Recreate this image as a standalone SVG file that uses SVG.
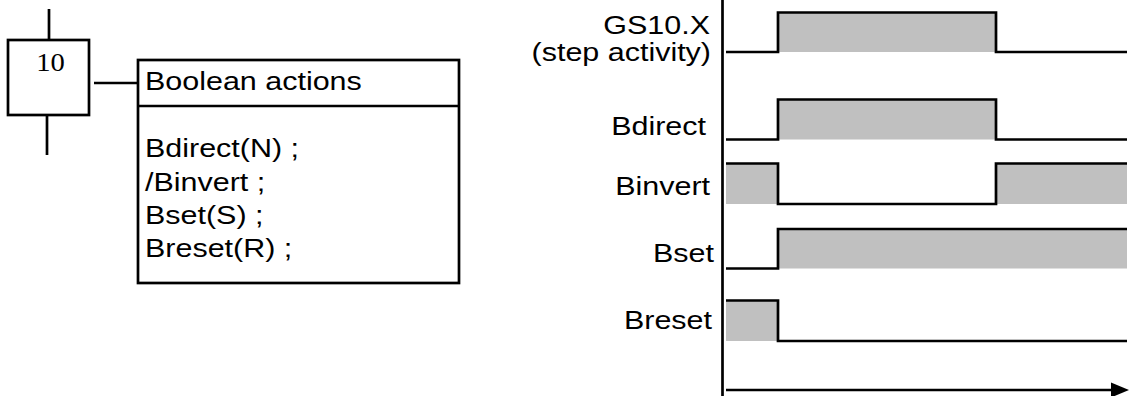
<svg xmlns="http://www.w3.org/2000/svg" width="1129" height="396" viewBox="0 0 1129 396">
<style>
.ln{fill:none;stroke:#000;stroke-width:2.7;stroke-linecap:butt;stroke-linejoin:miter}
.gr{fill:#c0c0c0;stroke:none}
.ah{fill:#000;stroke:none}
.t{font-family:"Liberation Sans",Arial,sans-serif;font-size:26.5px;fill:#000}
.r{text-anchor:end}
.s{font-family:"Liberation Serif","Times New Roman",serif;font-size:26px;fill:#000;text-anchor:middle}
</style>
<g id="step10">
<rect class="ln" x="8" y="40" width="81" height="75"/>
<text class="s" transform="translate(50.5,71) scale(1.1,1)">10</text>
</g>
<g id="actions">
<rect class="ln" x="138" y="60" width="321" height="223"/>
<line class="ln" x1="138" y1="106" x2="459" y2="106"/>
<text class="t" transform="translate(145,90) scale(1.15,1)">Boolean actions</text>
<text class="t" transform="translate(145,157) scale(1.15,1)">Bdirect(N) ;</text>
<text class="t" transform="translate(145,190.5) scale(1.15,1)">/Binvert ;</text>
<text class="t" transform="translate(145,223.5) scale(1.15,1)">Bset(S) ;</text>
<text class="t" transform="translate(145,257) scale(1.15,1)">Breset(R) ;</text>
</g>
<g id="connectors">
<line class="ln" x1="49" y1="9" x2="49" y2="40"/>
<line class="ln" x1="47" y1="115" x2="47" y2="155"/>
<line class="ln" x1="94" y1="83" x2="138" y2="83"/>
</g>
<g id="chart">
<line class="ln" x1="722.5" y1="0" x2="722.5" y2="396"/>
<g id="time-axis">
<line class="ln" x1="726" y1="390" x2="1114" y2="390"/>
<path class="ah" d="M1111,382.5 L1129,390 L1111,397.5 Z"/>
</g>
<g id="sig-gs10x">
<text class="t r" transform="translate(710,34) scale(1.15,1)">GS10.X</text>
<text class="t r" transform="translate(711,61) scale(1.15,1)">(step activity)</text>
<rect class="gr" x="778" y="12.5" width="218" height="39.5"/>
<path class="ln" d="M726,52 H778 V12.5 H996 V52 H1127"/>
</g>
<g id="sig-bdirect">
<text class="t r" transform="translate(706,135) scale(1.15,1)">Bdirect</text>
<rect class="gr" x="778" y="99.5" width="218" height="40"/>
<path class="ln" d="M726,139.5 H778 V99.5 H996 V139.5 H1127"/>
</g>
<g id="sig-binvert">
<text class="t r" transform="translate(710,195) scale(1.15,1)">Binvert</text>
<rect class="gr" x="726" y="163.5" width="52" height="40.5"/>
<rect class="gr" x="996" y="163.5" width="131" height="40.5"/>
<path class="ln" d="M726,163.5 H778 V204 H996 V163.5 H1127"/>
</g>
<g id="sig-bset">
<text class="t r" transform="translate(714,262) scale(1.15,1)">Bset</text>
<rect class="gr" x="778" y="229" width="349" height="39.5"/>
<path class="ln" d="M726,268.5 H778 V229 H1127"/>
</g>
<g id="sig-breset">
<text class="t r" transform="translate(712,329) scale(1.15,1)">Breset</text>
<rect class="gr" x="726" y="300.5" width="52" height="40.5"/>
<path class="ln" d="M726,300.5 H778 V341 H1127"/>
</g>
</g>
</svg>
